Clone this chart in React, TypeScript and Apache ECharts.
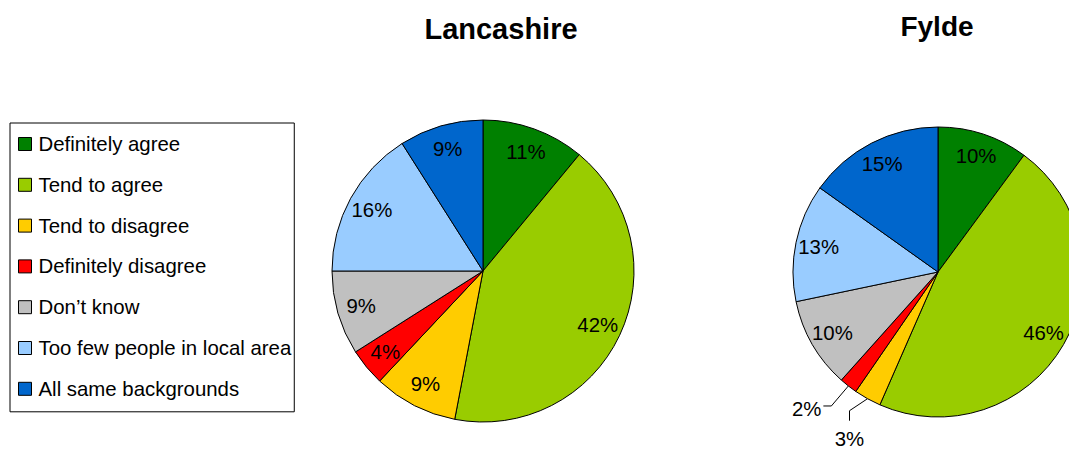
import React, { useEffect, useRef } from "react";
import * as echarts from "echarts";

const categories = [
  "Definitely agree",
  "Tend to agree",
  "Tend to disagree",
  "Definitely disagree",
  "Don\u2019t know",
  "Too few people in local area",
  "All same backgrounds",
];
const sliceColors = ["#008000", "#99CC00", "#FFCC00", "#FF0000", "#C0C0C0", "#99CCFF", "#0066CC"];
const lancashireValues = [11, 42, 9, 4, 9, 16, 9];
const fyldeValues = [10, 46, 3, 2, 10, 13, 15];
const chartTitles = ["Lancashire", "Fylde"];
const fyldeOutsideLabels = [2, 3]; // data indices labelled outside the Fylde pie

const FONT = "'Liberation Sans', Arial, Helvetica, sans-serif";

export default function App() {
  const ref = useRef<HTMLDivElement>(null);

  useEffect(() => {
    if (!ref.current) return;
    const chart = echarts.init(ref.current, null, { renderer: "svg" });

    const baseData = (vals: number[]) =>
      vals.map((v, i) => ({ name: categories[i], value: v, itemStyle: { color: sliceColors[i] } }));

    const labelData = (vals: number[], outside: number[]) =>
      vals.map((v, i) => {
        const isOut = outside.indexOf(i) >= 0;
        return {
          name: categories[i],
          value: v,
          label: isOut ? { position: "outside" } : { position: "inside" },
          labelLine: { show: isOut },
        };
      });

    const basePie = (center: number[], radius: number, vals: number[]) => ({
      type: "pie",
      center,
      radius,
      startAngle: 90,
      clockwise: true,
      avoidLabelOverlap: false,
      label: { show: false },
      labelLine: { show: false },
      emphasis: { disabled: true },
      itemStyle: { borderColor: "#000", borderWidth: 1 },
      data: baseData(vals),
    });

    const labelPie = (center: number[], radius: number, vals: number[], outside: number[]) => ({
      type: "pie",
      center,
      radius: [radius * 0.64, radius],
      startAngle: 90,
      clockwise: true,
      silent: true,
      avoidLabelOverlap: false,
      emphasis: { disabled: true },
      itemStyle: { color: "rgba(0,0,0,0)", borderWidth: 0 },
      label: {
        show: true,
        formatter: "{c}%",
        color: "#000",
        fontSize: 20.4,
        fontFamily: FONT,
      },
      labelLine: {
        length: 12,
        length2: 8,
        lineStyle: { color: "#000", width: 1 },
      },
      data: labelData(vals, outside),
    });

    const option: any = {
      animation: false,
      backgroundColor: "#fff",
      graphic: [
        {
          type: "text",
          x: 501,
          y: 29,
          style: {
            text: chartTitles[0],
            font: `bold 29px ${FONT}`,
            fill: "#000",
            textAlign: "center",
            textVerticalAlign: "middle",
          },
        },
        {
          type: "text",
          x: 937,
          y: 26,
          style: {
            text: chartTitles[1],
            font: `bold 28px ${FONT}`,
            fill: "#000",
            textAlign: "center",
            textVerticalAlign: "middle",
          },
        },
      ],
      legend: {
        orient: "vertical",
        left: 10,
        top: 123,
        data: categories,
        icon: "rect",
        itemWidth: 13,
        itemHeight: 13,
        itemGap: 20.8,
        padding: [11, 3, 13, 8],
        borderColor: "#000",
        borderWidth: 1,
        backgroundColor: "#fff",
        selectedMode: false,
        itemStyle: { borderColor: "#000", borderWidth: 1 },
        textStyle: { fontSize: 20.4, lineHeight: 20, color: "#000", fontFamily: FONT, padding: [0, 0, 0, 2] },
      },
      series: [
        basePie([483, 271], 151, lancashireValues),
        basePie([938, 272], 145, fyldeValues),
        labelPie([483, 271], 151, lancashireValues, []),
        {
          ...labelPie([938, 272], 145, fyldeValues, fyldeOutsideLabels),
          labelLayout: (params: any) => {
            const pts = params.labelLinePoints;
            if (!pts || pts.length < 2) return {};
            const p0 = pts[0];
            if (params.dataIndex === 3) {
              const p1 = [p0[0] - 17, p0[1] + 20];
              const p2 = [p1[0] - 8, p1[1]];
              return {
                x: p2[0] - 2,
                y: p2[1] + 3,
                align: "right",
                verticalAlign: "middle",
                labelLinePoints: [p0, p1, p2],
              };
            }
            if (params.dataIndex === 2) {
              const p1 = [p0[0] - 18, p0[1] + 12];
              const p2 = [p1[0], p1[1] + 10];
              return {
                x: p2[0],
                y: p2[1] + 18,
                align: "center",
                verticalAlign: "middle",
                labelLinePoints: [p0, p1, p2],
              };
            }
            return {};
          },
        },
      ],
    };

    chart.setOption(option);
    return () => chart.dispose();
  }, []);

  return (
    <div
      ref={ref}
      style={{ position: "absolute", left: 0, top: 0, width: 1069, height: 451, background: "#fff" }}
    />
  );
}
